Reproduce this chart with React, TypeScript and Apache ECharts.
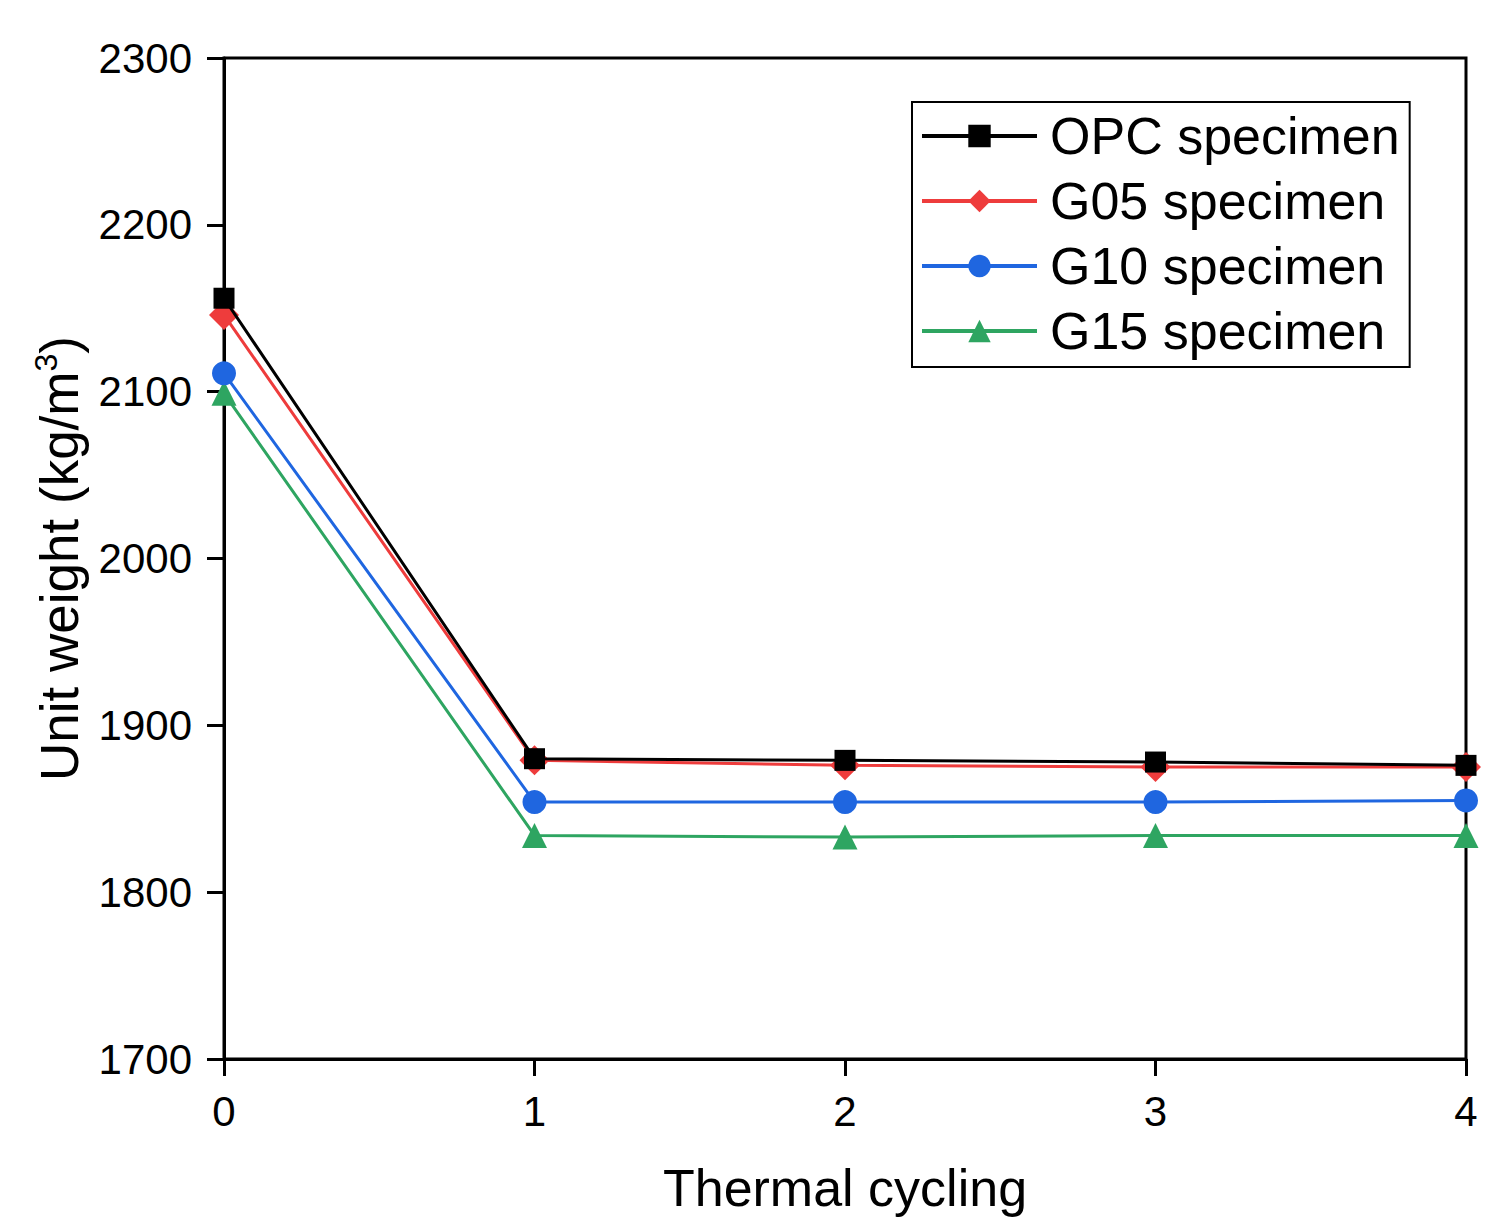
import React, { useEffect, useRef } from "react";
import * as echarts from "echarts";

const cycles = [0, 1, 2, 3, 4];
const opc = [2156, 1880, 1879, 1878, 1876];
const g05 = [2146, 1879, 1876, 1875, 1875];
const g10 = [2111, 1854, 1854, 1854, 1855];
const g15 = [2099, 1834, 1833, 1834, 1834];
const seriesNames = ["OPC specimen", "G05 specimen", "G10 specimen", "G15 specimen"];
const colors = ["#000000", "#ee3c3c", "#1f66e0", "#2ea561"];
const symbols = ["rect", "diamond", "circle", "triangle"];
const symbolSizes = [21, 30, 24, 25];

const FONT = "'Liberation Sans', Arial, sans-serif";

export default function App() {
  const ref = useRef<HTMLDivElement>(null);
  useEffect(() => {
    document.body.style.margin = "0";
    const chart = echarts.init(ref.current!, null, { renderer: "svg" });
    const allData = [opc, g05, g10, g15];
    chart.setOption({
      animation: false,
      backgroundColor: "#ffffff",
      textStyle: { fontFamily: FONT },
      grid: {
        left: 224,
        right: 41,
        top: 58,
        bottom: 172,
        outerBoundsMode: "none",
        containLabel: false,
        show: true,
        borderColor: "#000",
        borderWidth: 3,
      },
      legend: {
        orient: "vertical",
        left: 912,
        top: 102,
        padding: [8, 10, 10, 8],
        itemWidth: 115,
        itemHeight: 28,
        itemGap: 13,
        borderColor: "#000",
        borderWidth: 2,
        backgroundColor: "#fff",
        lineStyle: { width: 4 },
        textStyle: { fontSize: 52, color: "#000", fontFamily: FONT, padding: [0, 0, 0, 8] },
        data: seriesNames,
      },
      xAxis: {
        type: "value",
        min: 0,
        max: 4,
        interval: 1,
        name: "Thermal cycling",
        nameLocation: "middle",
        nameGap: 103,
        nameTextStyle: { fontSize: 52, color: "#000", fontFamily: FONT },
        axisLine: { show: true, onZero: false, lineStyle: { color: "#000", width: 3 } },
        axisTick: { show: true, inside: false, length: 17, lineStyle: { color: "#000", width: 3 } },
        axisLabel: { fontSize: 42, color: "#000", margin: 31, fontFamily: FONT, formatter: (v: number) => String(v) },
        splitLine: { show: false },
      },
      yAxis: {
        type: "value",
        min: 1700,
        max: 2300,
        interval: 100,
        name: "Unit weight (kg/m{sup|3})",
        nameLocation: "middle",
        nameGap: 136,
        nameRotate: 90,
        nameTextStyle: {
          fontSize: 53,
          color: "#000",
          fontFamily: FONT,
          rich: {
            sup: { fontSize: 32, color: "#000", fontFamily: FONT, verticalAlign: "top", padding: [0, 0, 26, 0] },
          },
        },
        axisLine: { show: true, lineStyle: { color: "#000", width: 3 } },
        axisTick: { show: true, inside: false, length: 17, lineStyle: { color: "#000", width: 3 } },
        axisLabel: { fontSize: 42, color: "#000", margin: 32, fontFamily: FONT, formatter: (v: number) => String(v) },
        splitLine: { show: false },
      },
      series: seriesNames.map((name, i) => ({
        name,
        type: "line",
        data: cycles.map((c, j) => [c, allData[i][j]]),
        symbol: symbols[i],
        symbolSize: symbolSizes[i],
        showAllSymbol: true,
        clip: false,
        itemStyle: { color: colors[i] },
        lineStyle: { color: colors[i], width: 3 },
        z: 10 - i,
      })),
    });
    return () => chart.dispose();
  }, []);
  return <div ref={ref} style={{ width: 1507, height: 1231 }} />;
}
